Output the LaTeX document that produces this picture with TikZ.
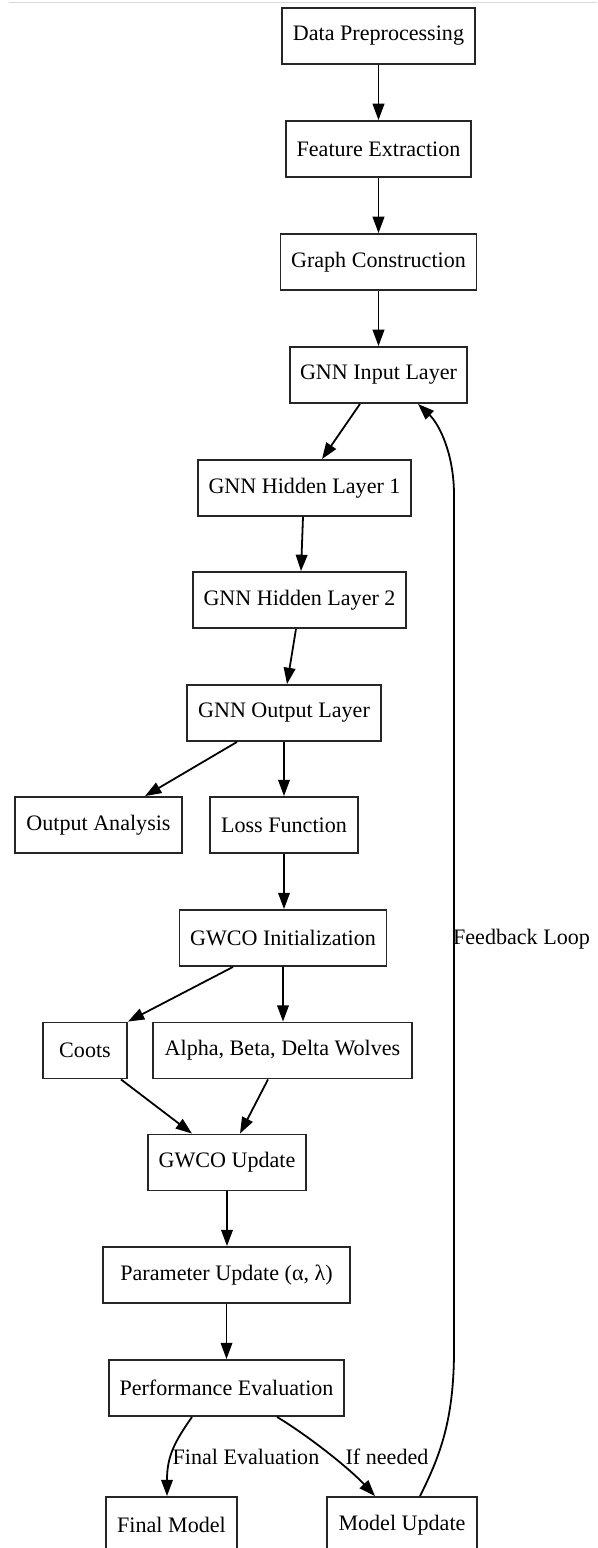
\documentclass[tikz,border=0pt]{standalone}
\usepackage{fontspec}
\setmainfont{Liberation Serif}
\usetikzlibrary{arrows.meta,calc}
\tikzset{
  box/.style={draw=black!85, line width=1.2pt, rectangle, minimum height=36pt, inner xsep=0pt, inner ysep=0pt, font=\fontsize{14.2pt}{16pt}\selectfont, fill=white},
  bw/.style={minimum width=#1*0.643pt},
  arr/.style={draw=black, line width=1.15pt, -{Triangle[length=10.5pt,width=7.5pt]}},
  lbl/.style={font=\fontsize{14.2pt}{16pt}\selectfont, inner sep=0pt},
}
\begin{document}
\begin{tikzpicture}[x=0.643pt,y=-0.643pt]
\useasboundingbox (0,0) rectangle (597,1548);
\clip (0,0) rectangle (597,1548);
\fill[white] (0,0) rectangle (597,1548);
\draw[black!15, line width=1pt] (9,2.5) -- (597,2.5);

\node[box, bw=193] (dp) at (378.5,36) {Data Preprocessing};
\node[box, bw=185] (fe) at (378.5,149) {Feature Extraction};
\node[box, bw=196] (gc) at (378.5,262) {Graph Construction};
\node[box, bw=177] (gil) at (378.5,375) {GNN Input Layer};
\node[box, bw=213] (gh1) at (304.5,488) {GNN Hidden Layer 1};
\node[box, bw=213] (gh2) at (299.5,600) {GNN Hidden Layer 2};
\node[box, bw=194] (gol) at (284,713) {GNN Output Layer};
\node[box, bw=167] (oa) at (98.5,825) {Output Analysis};
\node[box, bw=148] (lf) at (284,825) {Loss Function};
\node[box, bw=207] (gwi) at (283,938) {GWCO Initialization};
\node[box, bw=84] (coots) at (85,1050.5) {Coots};
\node[box, bw=259] (alpha) at (282.5,1050.5) {Alpha, Beta, Delta Wolves};
\node[box, bw=158] (gwu) at (227,1162.5) {GWCO Update};
\node[box, bw=247] (pu) at (226.5,1275) {Parameter Update (α, λ)};
\node[box, bw=235] (pe) at (226.5,1388) {Performance Evaluation};
\node[box, bw=131] (fm) at (171.5,1525) {Final Model};
\node[box, bw=150] (mu) at (402,1525) {Model Update};

\node[lbl] (lfe) at (246,1457) {Final Evaluation};
\node[lbl] (lin) at (387,1457) {If needed};
\node[lbl] (lfb) at (521.5,939) {Feedback Loop};

\draw[arr] (dp.south) -- (fe.north);
\draw[arr] (fe.south) -- (gc.north);
\draw[arr] (gc.south) -- (gil.north);
\draw[arr] ($(gil.south)+(-18.5,0)$) -- ($(gh1.north)+(17.5,0)$);
\draw[arr] ($(gh1.south)+(-1.5,0)$) -- ($(gh2.north)+(1.5,0)$);
\draw[arr] ($(gh2.south)+(-3.5,0)$) -- ($(gol.north)+(3,0)$);
\draw[arr] ($(gol.south)+(-47,0)$) -- ($(oa.north)+(46.5,0)$);
\draw[arr] (gol.south) -- (lf.north);
\draw[arr] (lf.south) -- (lf.south |- gwi.north);
\draw[arr] ($(gwi.south)+(-50,0)$) -- (coots.north east);
\draw[arr] (gwi.south) -- (gwi.south |- alpha.north);
\draw[arr] ($(coots.south)+(36,0)$) -- ($(gwu.north)+(-35,0)$);
\draw[arr] ($(alpha.south)+(-14.5,0)$) -- ($(gwu.north)+(13,0)$);
\draw[arr] (gwu.south) -- (gwu.south |- pu.north);
\draw[arr] (pu.south) -- (pu.south |- pe.north);
\draw[arr] ($(pe.south)+(-34.5,0)$) .. controls ($(pe.south)+(-52,25)$) and ($(fm.north)+(-4.5,-40)$) .. ($(fm.north)+(-4.5,0)$);
\draw[arr] ($(pe.south)+(50.5,0)$) .. controls ($(pe.south)+(83.5,20)$) and ($(mu.north)+(-52,-27)$) .. ($(mu.north)+(-27,0)$);
\draw[arr] ($(mu.north)+(18,0)$) .. controls ($(mu.north)+(38,-40)$) and (454,1420) .. (454,1350) -- (454,495) .. controls (454,455) and (440,425) .. ($(gil.south)+(39.5,0)$);
\end{tikzpicture}
\end{document}
